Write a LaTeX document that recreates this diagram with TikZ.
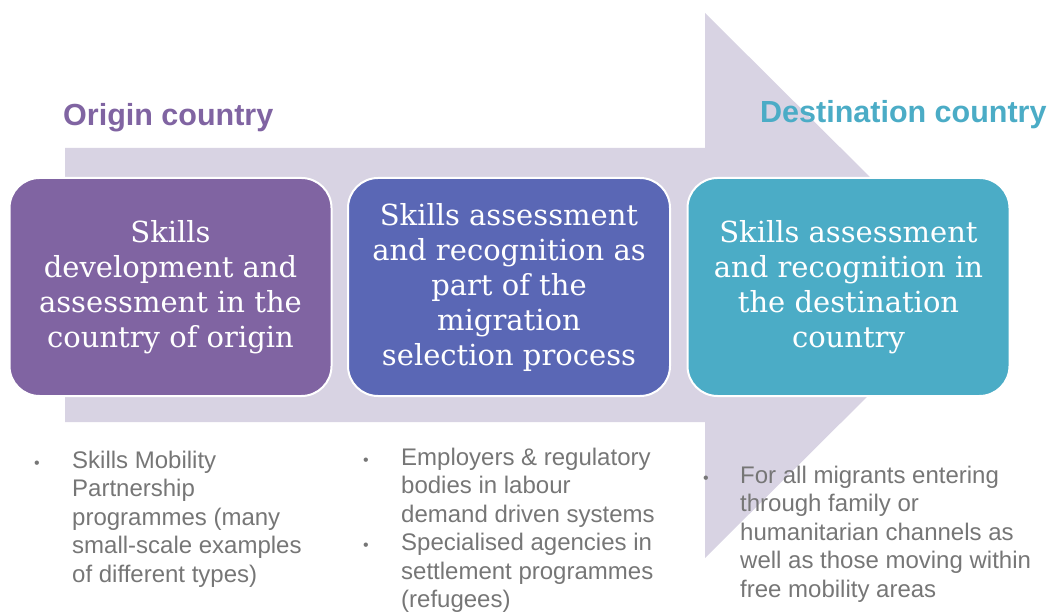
\documentclass[tikz,border=0pt]{standalone}
\usepackage{fontspec}
\setmainfont{Liberation Sans}
\newfontfamily\boxfont{DejaVu Serif}
\newfontfamily\sansf{Liberation Sans}
\definecolor{arrowcol}{HTML}{D8D3E3}
\definecolor{purplebox}{HTML}{8064A2}
\definecolor{bluebox}{HTML}{5A67B5}
\definecolor{tealbox}{HTML}{4BACC6}
\definecolor{bullgray}{HTML}{767676}
\newcommand{\firststrut}{\rule{0pt}{18pt}}
\tikzset{
  stagebox/.style={rounded corners=30pt, draw=white, line width=2pt,
    minimum width=322pt, minimum height=218pt, inner sep=0pt,
    text=white, align=center, font=\boxfont\fontsize{29}{35}\selectfont},
  heading/.style={anchor=base west, inner sep=0pt, font=\sansf\bfseries\fontsize{30.5}{36}\selectfont},
  listtext/.style={anchor=north west, inner sep=0pt, align=left, text=bullgray,
    font=\sansf\fontsize{24}{28.5}\selectfont},
  bulletdot/.style={anchor=base, inner sep=0pt, text=bullgray, font=\sansf\fontsize{16}{20}\selectfont}
}
\begin{document}
\begin{tikzpicture}[x=1pt,y=-1pt]
\useasboundingbox (0,0) rectangle (1050,612);
% big arrow
\fill[arrowcol] (65,148) -- (705,148) -- (705,13) -- (979,285.5) -- (705,558) -- (705,422) -- (65,422) -- cycle;
% headings
\node[heading, text=purplebox] (origin) at (63,126) {Origin country};
\node[heading, text=tealbox] (dest) at (760,123) {Destination country};
% boxes
\node[stagebox, fill=purplebox] (box1) at (170.5,287) {Skills\\development and\\assessment in the\\country of origin};
\node[stagebox, fill=bluebox] (box2) at (509,287) {Skills assessment\\and recognition as\\part of the\\migration\\selection process};
\node[stagebox, fill=tealbox] (box3) at (848.5,287) {Skills assessment\\and recognition in\\the destination\\country};
% lists (first baselines: 468, 465, 483)
\node[bulletdot] (b1) at (37,468) {•};
\node[listtext] (list1) at (72,450) {\firststrut Skills Mobility\\Partnership\\programmes (many\\small-scale examples\\of different types)};
\node[bulletdot] (b2) at (366,465) {•};
\node[bulletdot] (b3) at (366,550.5) {•};
\node[listtext] (list2) at (401,447) {\firststrut Employers \& regulatory\\bodies in labour\\demand driven systems\\Specialised agencies in\\settlement programmes\\(refugees)};
\node[bulletdot] (b4) at (706,483) {•};
\node[listtext] (list3) at (740,465) {\firststrut For all migrants entering\\through family or\\humanitarian channels as\\well as those moving within\\free mobility areas};
\end{tikzpicture}
\end{document}
